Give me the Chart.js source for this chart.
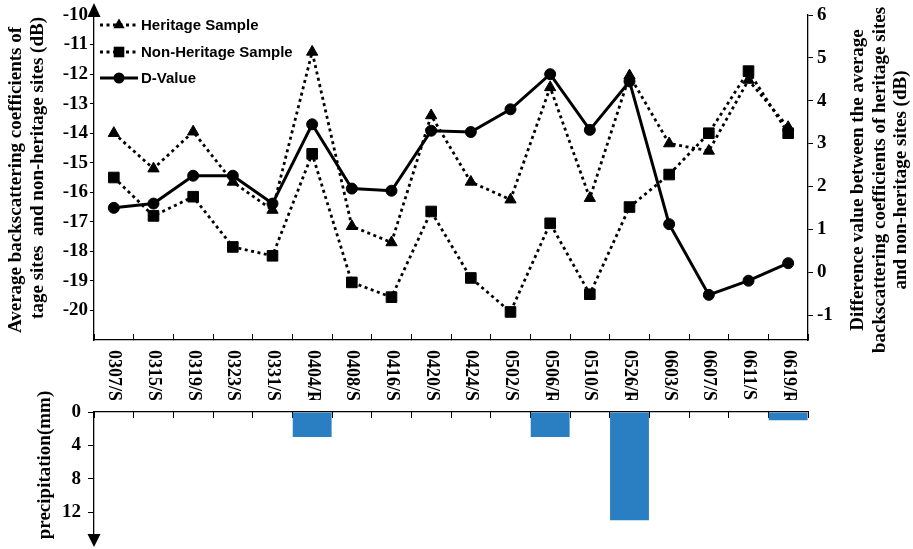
<!DOCTYPE html>
<html><head><meta charset="utf-8">
<script src="https://cdn.jsdelivr.net/npm/chart.js@4/dist/chart.umd.min.js"></script>
<style>
html,body{margin:0;padding:0;background:#fff;}
#wrap{position:relative;width:913px;height:549px;overflow:hidden;background:#fff;}
canvas{position:absolute;left:0;}
#c1{top:0;} #c2{top:380px;}
</style></head><body>
<div id="wrap"><canvas id="c1" width="913" height="400"></canvas><canvas id="c2" width="913" height="169"></canvas></div>
<script>
const categories = ['0307/S','0315/S','0319/S','0323/S','0331/S','0404/R','0408/S','0416/S','0420/S','0424/S','0502/S','0506/R','0510/S','0526/R','0603/S','0607/S','0611/S','0619/R'];
const heritage = [-14.0,-15.2,-13.95,-15.65,-16.6,-11.25,-17.15,-17.7,-13.4,-15.65,-16.25,-12.45,-16.2,-12.05,-14.35,-14.6,-12.2,-13.8];
const nonHeritage = [-15.5,-16.8,-16.15,-17.85,-18.15,-14.7,-19.05,-19.55,-16.65,-18.9,-20.05,-17.05,-19.45,-16.5,-15.4,-14.0,-11.9,-14.0];
const dValue = [1.5,1.6,2.25,2.25,1.6,3.45,1.95,1.9,3.3,3.27,3.8,4.62,3.32,4.45,1.12,-0.53,-0.2,0.21];
const precipitation = [0,0,0,0,0,3,0,0,0,0,0,3,0,13,0,0,0,1];
const leftTicks = [-10,-11,-12,-13,-14,-15,-16,-17,-18,-19,-20];
const rightTicks = [6,5,4,3,2,1,0,-1];
const precipTicks = [0,4,8,12];
const seriesNames = ['Heritage Sample','Non-Heritage Sample','D-Value'];
const leftTitle = ['Average backscattering coefficients of','tage sites  and non-heritage sites (dB)'];
const rightTitle = ['Difference value between the average','backscattering coefficients of heritage sites','and non-heritage sites (dB)'];
const precipTitle = 'precipitation(mm)';

const SERIF = '"Liberation Serif", "Times New Roman", serif';
const SANS = '"Liberation Sans", Arial, sans-serif';
const tickFont = {family: SERIF, size: 19, weight: 'bold'};

function marker(ctx, style, x, y, r) {
  ctx.beginPath();
  if (style === 'triangle') {
    for (let k = 0; k < 3; k++) {
      const a = k * 2 * Math.PI / 3;
      const px = x + Math.sin(a) * r, py = y - Math.cos(a) * r;
      k ? ctx.lineTo(px, py) : ctx.moveTo(px, py);
    }
    ctx.closePath();
  } else if (style === 'rect') {
    const s = Math.SQRT1_2 * r;
    ctx.rect(x - s, y - s, 2 * s, 2 * s);
  } else {
    ctx.arc(x, y, r, 0, Math.PI * 2);
  }
  ctx.fill();
}

function fixY(width) {
  return function (s) { s.width = width; s.paddingTop = 0; s.paddingBottom = 0; };
}

const deco1 = {
  id: 'deco1',
  afterDraw(chart) {
    const ctx = chart.ctx;
    const xs = chart.scales.x, yL = chart.scales.yL;
    ctx.save();
    ctx.fillStyle = '#000';
    const ax = yL.right;
    ctx.beginPath();
    ctx.moveTo(ax, 3); ctx.lineTo(ax - 6.5, 17); ctx.lineTo(ax + 6.5, 17); ctx.closePath(); ctx.fill();
    ctx.font = 'bold 18px ' + SERIF;
    ctx.textAlign = 'left'; ctx.textBaseline = 'middle';
    categories.forEach((c, i) => {
      ctx.save();
      ctx.translate(xs.getPixelForValue(i), 350);
      ctx.rotate(Math.PI / 2);
      ctx.fillText(c, 0, 0);
      ctx.restore();
    });
    ctx.font = 'bold 19px ' + SERIF;
    ctx.save(); ctx.translate(16, 180); ctx.rotate(-Math.PI / 2);
    ctx.textAlign = 'center'; ctx.fillText(leftTitle[0], 0, 0); ctx.restore();
    ctx.save(); ctx.translate(38, 17); ctx.rotate(-Math.PI / 2);
    ctx.textAlign = 'right'; ctx.fillText(leftTitle[1], 0, 0); ctx.restore();
    const rx = [858, 880, 901];
    rightTitle.forEach((t, i) => {
      ctx.save(); ctx.translate(rx[i], 180); ctx.rotate(-Math.PI / 2);
      ctx.textAlign = 'center'; ctx.fillText(t, 0, 0); ctx.restore();
    });
    const ly = [25, 52, 78];
    chart.data.datasets.forEach((ds, i) => {
      ctx.save();
      ctx.strokeStyle = '#000';
      ctx.lineWidth = ds.borderWidth;
      ctx.setLineDash(ds.borderDash || []);
      ctx.beginPath(); ctx.moveTo(100, ly[i]); ctx.lineTo(138, ly[i]); ctx.stroke();
      ctx.setLineDash([]);
      marker(ctx, ds.pointStyle, 119, ly[i], ds.pointRadius);
      ctx.font = 'bold 15px ' + SANS;
      ctx.textAlign = 'left'; ctx.textBaseline = 'middle';
      ctx.fillText(seriesNames[i], 141, ly[i] + 1);
      ctx.restore();
    });
    ctx.restore();
  }
};

const deco2 = {
  id: 'deco2',
  afterDraw(chart) {
    const ctx = chart.ctx;
    const y = chart.scales.y;
    ctx.save();
    ctx.fillStyle = '#000';
    const ax = y.right;
    ctx.beginPath();
    ctx.moveTo(ax, 167); ctx.lineTo(ax - 6.5, 154); ctx.lineTo(ax + 6.5, 154); ctx.closePath(); ctx.fill();
    ctx.font = 'bold 19px ' + SERIF;
    ctx.textBaseline = 'middle';
    ctx.translate(45, 85); ctx.rotate(-Math.PI / 2);
    ctx.textAlign = 'center'; ctx.fillText(precipTitle, 0, 0);
    ctx.restore();
  }
};

new Chart(document.getElementById('c1'), {
  type: 'line',
  data: {
    labels: categories,
    datasets: [
      {label: seriesNames[0], data: heritage, yAxisID: 'yL', borderColor: '#000', backgroundColor: '#000',
       borderWidth: 2.8, borderDash: [3, 3.5], pointStyle: 'triangle', pointRadius: 6.5, pointBorderWidth: 1,
       pointBackgroundColor: '#000', pointBorderColor: '#000', tension: 0, fill: false},
      {label: seriesNames[1], data: nonHeritage, yAxisID: 'yL', borderColor: '#000', backgroundColor: '#000',
       borderWidth: 2.8, borderDash: [3, 3.5], pointStyle: 'rect', pointRadius: 7.5, pointBorderWidth: 1,
       pointBackgroundColor: '#000', pointBorderColor: '#000', tension: 0, fill: false},
      {label: seriesNames[2], data: dValue, yAxisID: 'yR', borderColor: '#000', backgroundColor: '#000',
       borderWidth: 3, pointStyle: 'circle', pointRadius: 5.5, pointBorderWidth: 1,
       pointBackgroundColor: '#000', pointBorderColor: '#000', tension: 0, fill: false}
    ]
  },
  options: {
    responsive: false, devicePixelRatio: 1, animation: false,
    layout: {padding: {top: 15, left: 0, right: 0, bottom: 0}},
    plugins: {legend: {display: false}, tooltip: {enabled: false}},
    scales: {
      x: {type: 'category', offset: true,
          grid: {offset: true, drawOnChartArea: false, drawTicks: true, tickLength: -6, color: '#000', lineWidth: 1},
          border: {color: '#000', width: 1.3}, ticks: {display: false},
          afterFit(s) { s.height = 60; s.paddingLeft = 0; s.paddingRight = 0; }},
      yL: {position: 'left', min: -21, max: -10,
           afterBuildTicks(s) { s.ticks = leftTicks.map(v => ({value: v})); },
           ticks: {font: tickFont, color: '#000', padding: 2},
           grid: {drawOnChartArea: false, tickLength: 4, color: '#000'},
           border: {color: '#000', width: 1.3},
           afterFit: fixY(94)},
      yR: {position: 'right', min: -1.583, max: 6,
           afterBuildTicks(s) { s.ticks = rightTicks.map(v => ({value: v})); },
           ticks: {font: tickFont, color: '#000', padding: 4},
           grid: {drawOnChartArea: false, tickLength: 5, color: '#000'},
           border: {color: '#000', width: 1.3},
           afterFit: fixY(105)}
    }
  },
  plugins: [deco1]
});

new Chart(document.getElementById('c2'), {
  type: 'bar',
  data: {
    labels: categories,
    datasets: [{label: precipTitle, data: precipitation, backgroundColor: '#2a7fc2', borderWidth: 0,
                barPercentage: 1, categoryPercentage: 0.98}]
  },
  options: {
    responsive: false, devicePixelRatio: 1, animation: false,
    layout: {padding: {top: 32, left: 0, right: 105, bottom: 9}},
    plugins: {legend: {display: false}, tooltip: {enabled: false}},
    scales: {
      x: {type: 'category', position: 'top', offset: true,
          grid: {offset: true, drawOnChartArea: false, drawTicks: true, tickLength: -6, color: '#000', lineWidth: 1},
          border: {color: '#000', width: 1.3}, ticks: {display: false},
          afterFit(s) { s.height = 0; s.paddingLeft = 0; s.paddingRight = 0; }},
      y: {position: 'left', reverse: true, min: 0, max: 15.36,
          afterBuildTicks(s) { s.ticks = precipTicks.map(v => ({value: v})); },
          ticks: {font: tickFont, color: '#000', padding: 7},
          grid: {drawOnChartArea: false, tickLength: 6, color: '#000'},
          border: {color: '#000', width: 1.3},
          afterFit: fixY(94)}
    }
  },
  plugins: [deco2]
});
</script>
</body></html>
